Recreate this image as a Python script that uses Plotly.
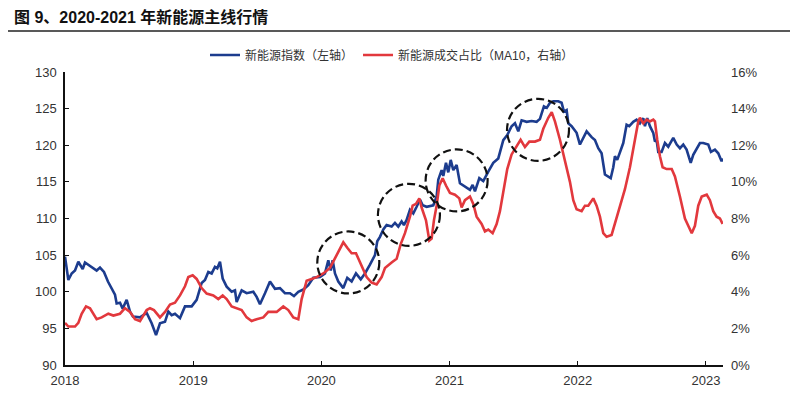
import plotly.graph_objects as go

# ---- data (decimal year, value) ----
index_x = [2018.000, 2018.026, 2018.052, 2018.078, 2018.104, 2018.138, 2018.156, 2018.208, 2018.247, 2018.273,
           2018.304, 2018.335, 2018.390, 2018.403, 2018.429, 2018.450, 2018.481, 2018.507, 2018.530, 2018.585,
           2018.637, 2018.676, 2018.710, 2018.741, 2018.780, 2018.806, 2018.832, 2018.858, 2018.897, 2018.936,
           2018.988, 2019.027, 2019.066, 2019.092, 2019.118, 2019.144, 2019.170, 2019.188, 2019.209, 2019.230,
           2019.261, 2019.300, 2019.326, 2019.339, 2019.378, 2019.417, 2019.469, 2019.495, 2019.521, 2019.560,
           2019.599, 2019.638, 2019.677, 2019.716, 2019.755, 2019.786, 2019.820, 2019.859, 2019.898, 2019.937,
           2019.989, 2020.028, 2020.054, 2020.073, 2020.088, 2020.106, 2020.132, 2020.171, 2020.202, 2020.236,
           2020.270, 2020.307, 2020.340, 2020.379, 2020.418, 2020.436, 2020.457, 2020.483, 2020.509, 2020.548,
           2020.574, 2020.600, 2020.626, 2020.644, 2020.665, 2020.691, 2020.717, 2020.743, 2020.769, 2020.790,
           2020.821, 2020.873, 2020.899, 2020.912, 2020.938, 2020.951, 2020.972, 2020.990, 2021.009, 2021.029,
           2021.055, 2021.081, 2021.120, 2021.159, 2021.180, 2021.198, 2021.232, 2021.263, 2021.302, 2021.341,
           2021.380, 2021.419, 2021.450, 2021.484, 2021.510, 2021.536, 2021.562, 2021.601, 2021.640, 2021.679,
           2021.705, 2021.718, 2021.736, 2021.758, 2021.783, 2021.809, 2021.848, 2021.874, 2021.892, 2021.913,
           2021.926, 2021.952, 2021.991, 2022.017, 2022.043, 2022.069, 2022.108, 2022.134, 2022.160, 2022.186,
           2022.212, 2022.238, 2022.257, 2022.277, 2022.290, 2022.308, 2022.329, 2022.355, 2022.381, 2022.402,
           2022.433, 2022.459, 2022.485, 2022.511, 2022.524, 2022.542, 2022.563, 2022.589, 2022.602, 2022.615,
           2022.628, 2022.654, 2022.680, 2022.706, 2022.745, 2022.772, 2022.797, 2022.823, 2022.849, 2022.881,
           2022.901, 2022.927, 2022.953, 2022.979, 2023.018, 2023.039, 2023.070, 2023.096, 2023.122, 2023.130]
index_y = [104.8, 101.6, 102.5, 102.9, 104.1, 103.1, 104.0, 103.4, 102.9, 103.3,
           102.7, 101.4, 99.6, 98.4, 98.5, 97.7, 98.9, 97.3, 96.6, 96.5,
           97.1, 95.7, 94.1, 95.7, 95.9, 97.3, 96.8, 97.0, 96.4, 98.0,
           98.0, 98.9, 101.2, 101.6, 102.7, 102.5, 103.4, 103.2, 104.1, 101.8,
           100.7, 100.0, 100.2, 98.6, 100.2, 99.8, 100.0, 99.3, 98.3, 99.8,
           101.4, 100.4, 100.5, 99.8, 99.8, 99.4, 100.0, 100.3, 100.9, 101.9,
           102.0, 102.5, 104.3, 102.9, 104.3, 102.5, 101.4, 100.5, 101.9, 101.4,
           102.5, 101.7, 102.5, 103.7, 105.0, 106.9, 107.5, 108.5, 109.1, 108.9,
           109.4, 108.9, 109.6, 109.1, 109.8, 111.2, 110.7, 111.6, 112.6, 111.8,
           111.6, 111.8, 113.0, 115.3, 116.6, 115.8, 117.6, 116.3, 118.0, 116.6,
           117.3, 114.8, 114.4, 113.9, 114.6, 113.7, 115.5, 115.1, 116.4, 117.6,
           118.2, 120.7, 121.4, 122.6, 123.0, 121.9, 123.4, 123.2, 123.3, 123.2,
           123.6, 124.2, 125.3, 125.1, 125.8, 126.0, 126.0, 125.8, 124.6, 124.8,
           123.0, 122.6, 121.7, 120.1, 121.1, 121.9, 121.1, 120.7, 119.6, 118.9,
           116.0, 115.7, 115.5, 117.0, 118.5, 118.0, 119.1, 120.3, 122.8, 122.6,
           123.2, 123.5, 123.0, 123.7, 122.6, 123.7, 122.6, 121.7, 120.5, 120.7,
           119.1, 119.1, 120.3, 119.8, 121.0, 120.1, 119.6, 120.1, 119.4, 117.6,
           118.7, 119.6, 120.3, 120.3, 120.1, 119.1, 119.4, 118.9, 117.8, 118.2]

share_x = [2018.000, 2018.026, 2018.078, 2018.104, 2018.130, 2018.164, 2018.195, 2018.247, 2018.286, 2018.338,
           2018.377, 2018.429, 2018.468, 2018.507, 2018.546, 2018.585, 2018.637, 2018.663, 2018.694, 2018.741,
           2018.780, 2018.819, 2018.858, 2018.897, 2018.936, 2018.962, 2018.996, 2019.027, 2019.066, 2019.105,
           2019.157, 2019.196, 2019.230, 2019.261, 2019.300, 2019.339, 2019.378, 2019.417, 2019.456, 2019.495,
           2019.547, 2019.586, 2019.599, 2019.651, 2019.703, 2019.742, 2019.781, 2019.820, 2019.846, 2019.885,
           2019.924, 2019.963, 2020.015, 2020.067, 2020.119, 2020.171, 2020.202, 2020.236, 2020.270, 2020.288,
           2020.314, 2020.353, 2020.392, 2020.431, 2020.470, 2020.496, 2020.548, 2020.587, 2020.619, 2020.652,
           2020.691, 2020.712, 2020.738, 2020.764, 2020.782, 2020.816, 2020.842, 2020.860, 2020.878, 2020.899,
           2020.920, 2020.946, 2020.972, 2021.003, 2021.042, 2021.076, 2021.094, 2021.120, 2021.159, 2021.185,
           2021.211, 2021.250, 2021.276, 2021.302, 2021.336, 2021.367, 2021.393, 2021.419, 2021.450, 2021.484,
           2021.518, 2021.554, 2021.588, 2021.622, 2021.666, 2021.705, 2021.731, 2021.770, 2021.797, 2021.822,
           2021.861, 2021.900, 2021.939, 2021.965, 2021.991, 2022.030, 2022.056, 2022.082, 2022.121, 2022.147,
           2022.173, 2022.199, 2022.225, 2022.264, 2022.290, 2022.329, 2022.368, 2022.407, 2022.446, 2022.472,
           2022.485, 2022.511, 2022.537, 2022.563, 2022.589, 2022.602, 2022.620, 2022.641, 2022.662, 2022.693,
           2022.733, 2022.758, 2022.797, 2022.836, 2022.862, 2022.889, 2022.914, 2022.940, 2022.967, 2023.006,
           2023.031, 2023.057, 2023.083, 2023.109, 2023.130]
share_y = [2.3, 2.1, 2.1, 2.3, 2.8, 3.2, 3.1, 2.5, 2.6, 2.8,
           2.7, 2.8, 3.1, 2.9, 2.5, 2.4, 3.0, 3.1, 3.0, 2.6,
           2.9, 3.3, 3.4, 3.8, 4.3, 4.8, 4.9, 4.7, 4.2, 3.9,
           3.8, 3.6, 3.8, 3.6, 3.2, 3.1, 3.0, 2.6, 2.4, 2.5,
           2.6, 2.9, 2.9, 2.9, 3.2, 3.0, 2.6, 2.5, 3.6, 4.6,
           4.7, 4.8, 5.0, 5.3, 6.0, 6.7, 6.4, 6.1, 6.1, 5.8,
           5.4, 4.8, 4.5, 4.4, 4.8, 5.3, 5.6, 5.8, 6.6, 7.2,
           8.1, 8.7, 8.8, 9.1, 8.6, 7.9, 6.8, 6.9, 7.9, 8.7,
           9.8, 10.2, 9.8, 9.4, 9.3, 9.1, 8.6, 9.0, 9.2, 8.8,
           8.1, 7.7, 7.3, 7.4, 7.2, 7.7, 8.4, 9.5, 10.7, 11.5,
           11.9, 12.3, 11.9, 12.2, 12.2, 12.3, 12.9, 13.5, 13.8, 13.3,
           12.3, 11.1, 10.0, 9.0, 8.5, 8.4, 8.7, 8.7, 9.1, 8.7,
           8.1, 7.2, 7.0, 7.1, 7.7, 8.6, 9.6, 10.8, 12.3, 13.3,
           13.5, 13.2, 13.4, 13.3, 13.4, 13.3, 12.3, 11.4, 10.8, 10.7,
           10.7, 10.3, 9.2, 8.0, 7.6, 7.2, 7.6, 8.7, 9.2, 9.3,
           9.0, 8.4, 8.1, 8.0, 7.7]

year_ticks = [2018, 2019, 2020, 2021, 2022, 2023]
year_labels = ["2018", "2019", "2020", "2021", "2022", "2023"]
left_ticks = [90, 95, 100, 105, 110, 115, 120, 125, 130]
right_ticks = [0, 2, 4, 6, 8, 10, 12, 14, 16]
right_labels = [f"{v}%" for v in right_ticks]

# highlighted zones (centre in data coordinates)
circle_x = [2020.21, 2020.683, 2021.055, 2021.69]
circle_y = [104.0, 110.5, 115.2, 122.1]

title = "图 9、2020-2021 年新能源主线行情"
name_index = "新能源指数（左轴）"
name_share = "新能源成交占比（MA10，右轴）"

BLUE = "#1c3c8e"
RED = "#e2383d"
FONT = "Liberation Sans, Arial, Noto Sans CJK SC, sans-serif"

fig = go.Figure()
fig.add_trace(go.Scatter(x=index_x, y=index_y, name=name_index, mode="lines",
                         line=dict(color=BLUE, width=2.6), yaxis="y"))
fig.add_trace(go.Scatter(x=share_x, y=share_y, name=name_share, mode="lines",
                         line=dict(color=RED, width=2.6), yaxis="y2"))

for cx, cy in zip(circle_x, circle_y):
    fig.add_shape(type="circle", xref="x", yref="y", xsizemode="pixel", ysizemode="pixel",
                  xanchor=cx, yanchor=cy, x0=-31, x1=31, y0=-31, y1=31,
                  line=dict(color="#111111", width=2.2, dash="8px,4px"), layer="above")

# page is drawn with an 8px body offset; positions below are page pixels
# title underline
fig.add_shape(type="line", xref="paper", yref="paper",
              x0=(8 - 65) / 658, x1=(798 - 65) / 658, y0=(365 - 31) / 293, y1=(365 - 31) / 293,
              line=dict(color="#222222", width=1.5))

fig.add_annotation(text="<b>" + title + "</b>", xref="paper", yref="paper",
                   x=(12 - 65) / 658, y=(365 - 17) / 293, xanchor="left", yanchor="middle",
                   showarrow=False, font=dict(size=16, color="#111111", family=FONT))

fig.update_layout(
    width=790, height=387,
    margin=dict(l=57, r=75, t=64, b=30, autoexpand=False),
    paper_bgcolor="white", plot_bgcolor="white",
    font=dict(family=FONT, size=13, color="#333333"),
    showlegend=True,
    legend=dict(orientation="h", x=(205 - 65) / 658, y=(365 - 55) / 293, xanchor="left", yanchor="middle",
                font=dict(size=12, color="#333333"), bgcolor="rgba(0,0,0,0)", itemwidth=30,
                traceorder="normal"),
    xaxis=dict(range=[2018, 2023.133], tickvals=year_ticks, ticktext=year_labels,
               showgrid=False, zeroline=False, showline=True, linecolor="#111111", linewidth=1.5,
               ticks="inside", ticklen=4, tickcolor="#111111", tickwidth=1.2,
               ticklabelstandoff=3, tickfont=dict(size=13, color="#333333")),
    yaxis=dict(range=[90, 130], tickvals=left_ticks, showgrid=False, zeroline=False,
               showline=True, linecolor="#111111", linewidth=1.5,
               ticks="inside", ticklen=4, tickcolor="#111111", tickwidth=1.2,
               ticklabelstandoff=4, tickfont=dict(size=13, color="#333333")),
    yaxis2=dict(range=[0, 16], tickvals=right_ticks, ticktext=right_labels, overlaying="y", side="right",
                showgrid=False, zeroline=False, showline=False, ticks="",
                ticklabelstandoff=7, tickfont=dict(size=13, color="#333333")),
)

fig.write_html("out.html")
